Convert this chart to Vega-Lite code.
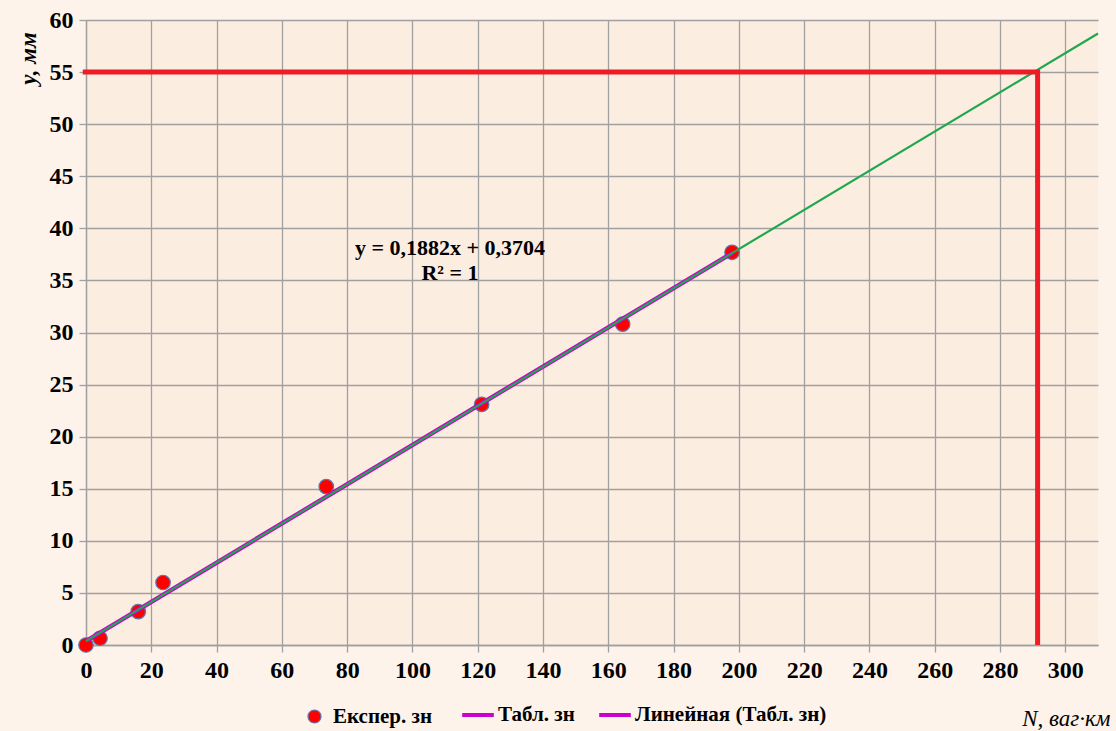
{
  "$schema": "https://vega.github.io/schema/vega-lite/v6.json",
  "width": 1012,
  "height": 625,
  "autosize": {"type": "none"},
  "padding": {"left": 86, "top": 20, "right": 18, "bottom": 86},
  "background": "#FDF3EB",
  "config": {
    "view": {"fill": "#FCEDE1", "stroke": null},
    "axis": {
      "domainColor": "#A0A0A0",
      "domainWidth": 1.3,
      "tickColor": "#A0A0A0",
      "tickWidth": 1.3,
      "tickSize": 7,
      "gridColor": "#A0A0A0",
      "gridWidth": 1.3,
      "gridOpacity": 1,
      "labelFont": "Liberation Serif",
      "labelFontSize": 24,
      "labelFontWeight": "bold",
      "labelColor": "#000000",
      "labelPadding": 6,
      "labelFlush": false,
      "titleFont": "Liberation Serif",
      "titleFontSize": 23,
      "titleFontStyle": "italic",
      "titleColor": "#000000"
    },
    "legend": {
      "labelFont": "Liberation Serif",
      "labelFontSize": 21,
      "labelFontWeight": "bold",
      "labelColor": "#000000",
      "labelLimit": 400
    }
  },
  "datasets": {
    "exp": [
      {"N": 0, "y": 0, "series": "Експер. зн"},
      {"N": 4.3, "y": 0.65, "series": "Експер. зн"},
      {"N": 16, "y": 3.2, "series": "Експер. зн"},
      {"N": 23.6, "y": 6.0, "series": "Експер. зн"},
      {"N": 73.6, "y": 15.2, "series": "Експер. зн"},
      {"N": 121.2, "y": 23.1, "series": "Експер. зн"},
      {"N": 164.4, "y": 30.8, "series": "Експер. зн"},
      {"N": 197.9, "y": 37.7, "series": "Експер. зн"}
    ],
    "tabl": [
      {"N": 0, "y": 0.3704, "series": "Табл. зн"},
      {"N": 197.9, "y": 37.62, "series": "Табл. зн"}
    ],
    "trend": [
      {"N": 0, "y": 0.3704},
      {"N": 310, "y": 58.71}
    ],
    "red": [
      {"N": -1, "y": 55},
      {"N": 291.5, "y": 55},
      {"N": 291.5, "y": 0}
    ],
    "note": [
      {"N": 111.5, "y": 38.1, "label": ["y = 0,1882x + 0,3704", "R² = 1"]}
    ]
  },
  "layer": [
    {
      "data": {"name": "exp"},
      "mark": {"type": "point", "filled": true, "size": 210, "stroke": "#5A78AE", "strokeWidth": 1.2, "opacity": 1},
      "encoding": {
        "x": {
          "field": "N", "type": "quantitative",
          "scale": {"domain": [0, 310], "nice": false, "zero": false},
          "axis": {
            "values": [0, 20, 40, 60, 80, 100, 120, 140, 160, 180, 200, 220, 240, 260, 280, 300],
            "title": "N, ваг·км",
            "titleAnchor": "end",
            "titleAlign": "right",
            "titleBaseline": "alphabetic",
            "titleX": 1024,
            "titleY": 80,
            "titleFontWeight": "normal"
          }
        },
        "y": {
          "field": "y", "type": "quantitative",
          "scale": {"domain": [0, 60], "nice": false},
          "axis": {
            "values": [0, 5, 10, 15, 20, 25, 30, 35, 40, 45, 50, 55, 60],
            "title": "y, мм",
            "titleFontWeight": "bold",
            "titleAlign": "center",
            "titleBaseline": "middle",
            "titleAngle": -90,
            "titleX": -58,
            "titleY": 38
          }
        },
        "fill": {
          "field": "series", "type": "nominal",
          "scale": {"domain": ["Експер. зн"], "range": ["#FF0000"]},
          "legend": {
            "title": null,
            "orient": "none",
            "direction": "horizontal",
            "legendX": 218,
            "legendY": 686,
            "labelOffset": 8,
            "symbolSize": 170,
            "symbolStrokeColor": "#5A78AE",
            "symbolStrokeWidth": 1.2
          }
        }
      }
    },
    {
      "data": {"name": "tabl"},
      "mark": {"type": "line", "strokeWidth": 4.5},
      "encoding": {
        "x": {"field": "N", "type": "quantitative"},
        "y": {"field": "y", "type": "quantitative"},
        "stroke": {
          "field": "series", "type": "nominal",
          "scale": {"domain": ["Табл. зн", "Линейная (Табл. зн)"], "range": ["#CC00CC", "#CC00CC"]},
          "legend": {
            "title": null,
            "orient": "none",
            "direction": "horizontal",
            "legendX": 374,
            "legendY": 677,
            "labelOffset": 2,
            "columnPadding": 16,
            "symbolType": "stroke",
            "symbolSize": 1000,
            "symbolStrokeWidth": 4
          }
        }
      }
    },
    {
      "data": {"name": "trend"},
      "mark": {"type": "line", "color": "#1EA84E", "strokeWidth": 2.2},
      "encoding": {
        "x": {"field": "N", "type": "quantitative"},
        "y": {"field": "y", "type": "quantitative"}
      }
    },
    {
      "data": {"name": "red"},
      "mark": {"type": "line", "color": "#EE1C25", "strokeWidth": 5, "strokeCap": "butt", "clip": false},
      "encoding": {
        "x": {"field": "N", "type": "quantitative"},
        "y": {"field": "y", "type": "quantitative"}
      }
    },
    {
      "data": {"name": "note"},
      "mark": {"type": "text", "font": "Liberation Serif", "fontSize": 22, "fontWeight": "bold", "align": "center", "baseline": "middle", "lineHeight": 25, "color": "#000000"},
      "encoding": {
        "x": {"field": "N", "type": "quantitative"},
        "y": {"field": "y", "type": "quantitative"},
        "text": {"field": "label"}
      }
    }
  ]
}
